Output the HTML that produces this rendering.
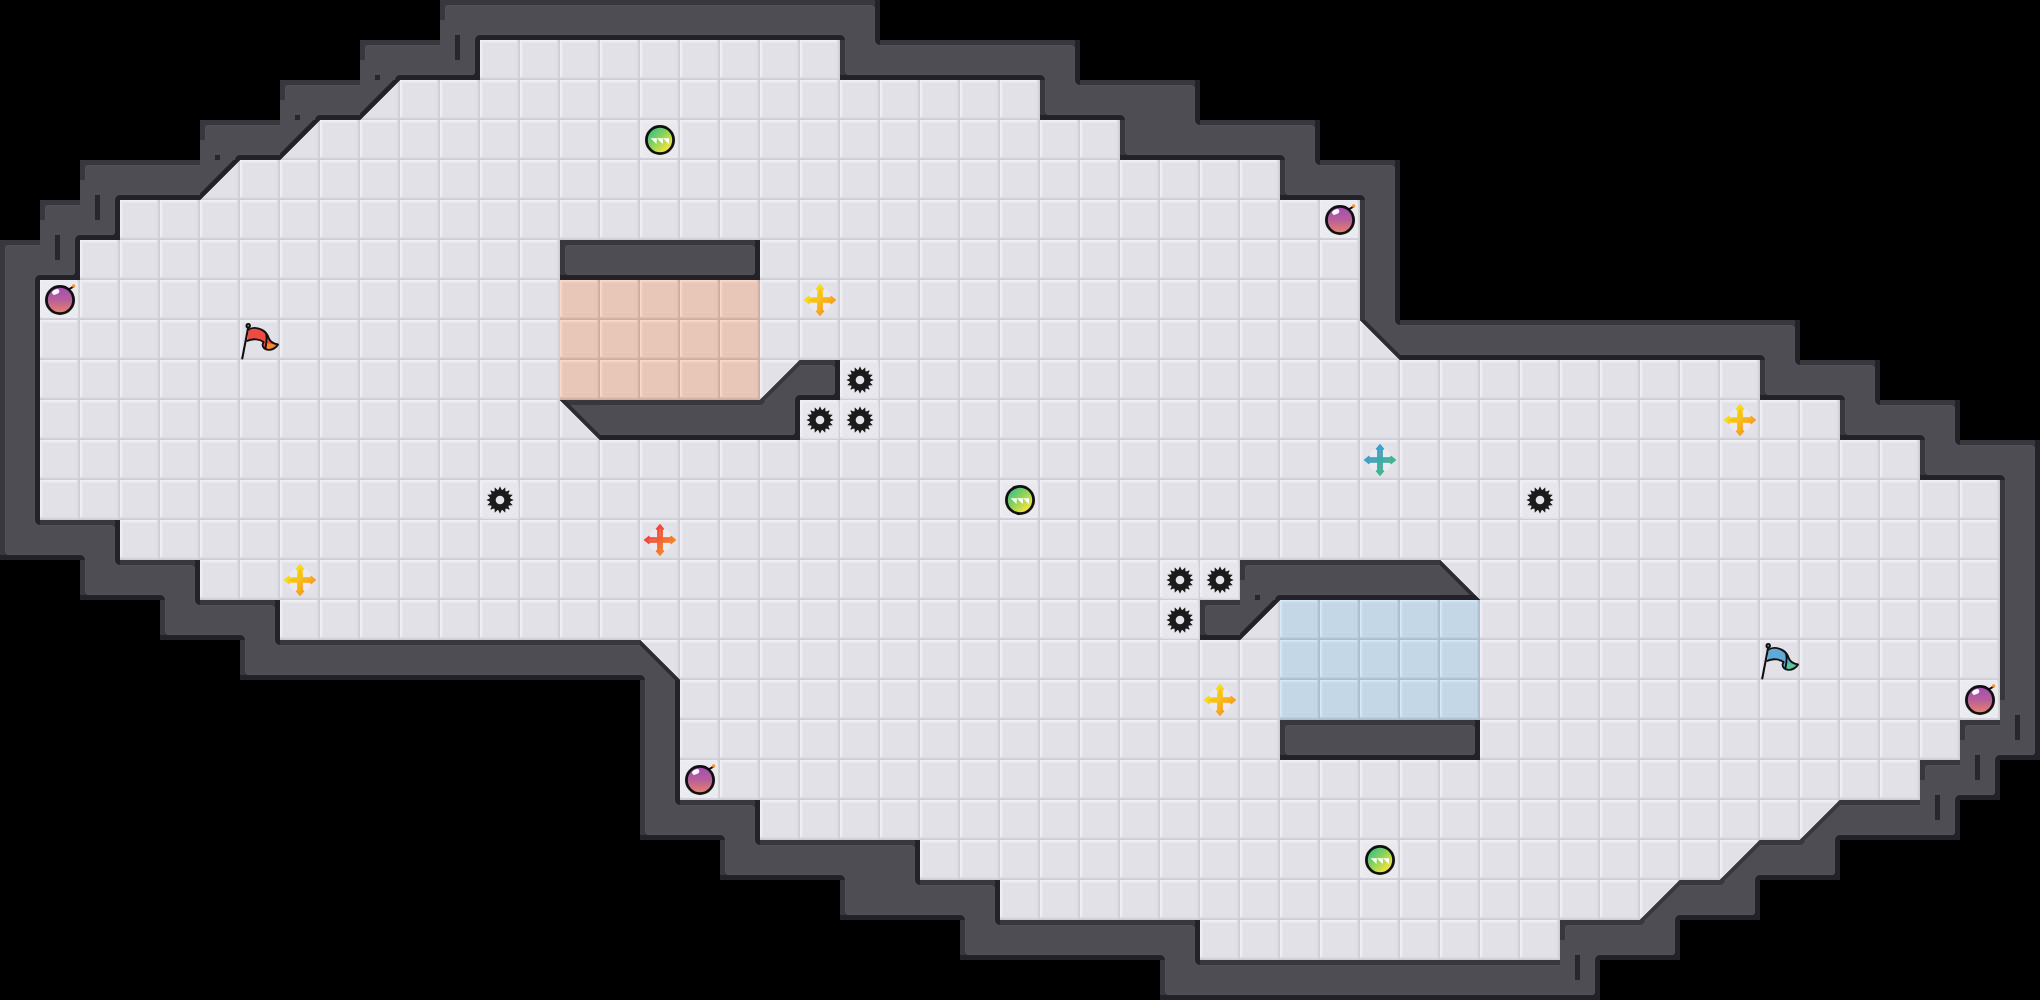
<!DOCTYPE html>
<html lang="en"><head><meta charset="utf-8"><title>Map preview</title>
<style>html,body{margin:0;padding:0;background:#000;overflow:hidden}svg{display:block}</style></head>
<body><svg width="2040" height="1000" viewBox="0 0 2040 1000" shape-rendering="auto"><defs>
<symbol id="f" width="40" height="40" viewBox="0 0 40 40"><rect width="40" height="40" fill="#e2e1e7"/><path d="M0 0h40v3h-37v37h-3z" fill="#e6e5eb"/><path d="M0 0h40v2h-38v38h-2z" fill="#ecebf2"/><path d="M0 0h40v1h-39v39h-1z" fill="#f0eff6"/><path d="M40 0v40h-40v-3h37v-37z" fill="#dddce2"/><path d="M40 0v40h-40v-2h38v-38z" fill="#d4d3da"/><path d="M40 0v40h-40v-1h39v-39z" fill="#cfced5"/><path d="M7.5 7.5h25v25h-25z" fill="none" stroke="#e4e3e9" stroke-width="1"/><path d="M5.5 5.5h29v29h-29z" fill="none" stroke="#e0dfe5" stroke-width="1"/></symbol>
<symbol id="fr" width="40" height="40" viewBox="0 0 40 40"><rect width="40" height="40" fill="#e8c7b8"/><path d="M0 0h40v3h-37v37h-3z" fill="#eccbbd"/><path d="M0 0h40v2h-38v38h-2z" fill="#f3d2c4"/><path d="M0 0h40v1h-39v39h-1z" fill="#f8d8cb"/><path d="M40 0v40h-40v-3h37v-37z" fill="#dfbfb0"/><path d="M40 0v40h-40v-2h38v-38z" fill="#d4b5a6"/><path d="M40 0v40h-40v-1h39v-39z" fill="#ccae9f"/><path d="M7.5 7.5h25v25h-25z" fill="none" stroke="#eac9ba" stroke-width="1"/><path d="M5.5 5.5h29v29h-29z" fill="none" stroke="#e5c4b5" stroke-width="1"/></symbol>
<symbol id="fb" width="40" height="40" viewBox="0 0 40 40"><rect width="40" height="40" fill="#c4d7e6"/><path d="M0 0h40v3h-37v37h-3z" fill="#c9dbea"/><path d="M0 0h40v2h-38v38h-2z" fill="#cfe1f0"/><path d="M0 0h40v1h-39v39h-1z" fill="#d6e7f5"/><path d="M40 0v40h-40v-3h37v-37z" fill="#bbcede"/><path d="M40 0v40h-40v-2h38v-38z" fill="#b1c5d6"/><path d="M40 0v40h-40v-1h39v-39z" fill="#a9bdce"/><path d="M7.5 7.5h25v25h-25z" fill="none" stroke="#c7d9e8" stroke-width="1"/><path d="M5.5 5.5h29v29h-29z" fill="none" stroke="#c1d4e3" stroke-width="1"/></symbol>
<radialGradient id="halo"><stop offset="0" stop-color="#fff" stop-opacity=".75"/><stop offset=".7" stop-color="#fff" stop-opacity=".55"/><stop offset="1" stop-color="#fff" stop-opacity="0"/></radialGradient>
<symbol id="spike" width="40" height="40" viewBox="0 0 40 40"><rect x="1" y="1" width="38" height="38" fill="#f3f2f7" opacity=".38"/><path d="M20.00 6.20L21.59 9.72L22.47 9.90L25.28 7.25L25.40 11.11L26.15 11.61L29.76 10.24L28.39 13.85L28.89 14.60L32.75 14.72L30.10 17.53L30.28 18.41L33.80 20.00L30.28 21.59L30.10 22.47L32.75 25.28L28.89 25.40L28.39 26.15L29.76 29.76L26.15 28.39L25.40 28.89L25.28 32.75L22.47 30.10L21.59 30.28L20.00 33.80L18.41 30.28L17.53 30.10L14.72 32.75L14.60 28.89L13.85 28.39L10.24 29.76L11.61 26.15L11.11 25.40L7.25 25.28L9.90 22.47L9.72 21.59L6.20 20.00L9.72 18.41L9.90 17.53L7.25 14.72L11.11 14.60L11.61 13.85L10.24 10.24L13.85 11.61L14.60 11.11L14.72 7.25L17.53 9.90L18.41 9.72z" fill="#1b1b1b"/><circle cx="20" cy="20" r="4.3" fill="#e4e3e9"/></symbol>
<linearGradient id="gbomb" x1="0" y1="0" x2="0" y2="1"><stop offset="0" stop-color="#a04db4"/><stop offset=".5" stop-color="#b8609a"/><stop offset="1" stop-color="#ea8368"/></linearGradient>
<symbol id="bomb" width="40" height="40" viewBox="0 0 40 40"><rect x="2" y="2" width="36" height="36" fill="#efeef4" opacity=".7"/><path d="M28.5 9.5L33 6.8" stroke="#111" stroke-width="2" stroke-linecap="round"/><circle cx="20" cy="20" r="13.6" fill="url(#gbomb)" stroke="#111" stroke-width="2.8"/><ellipse cx="15.6" cy="11.8" rx="3.8" ry="2.4" transform="rotate(-28 16 11.6)" fill="#fff"/><circle cx="33.6" cy="6" r="1.7" fill="#f7941d"/></symbol>
<linearGradient id="gboost" x1="0.1" y1="0.1" x2="0.9" y2="0.9"><stop offset="0" stop-color="#2fbf86"/><stop offset=".45" stop-color="#8fd25a"/><stop offset=".9" stop-color="#f7e43a"/></linearGradient>
<symbol id="boost" width="40" height="40" viewBox="0 0 40 40"><rect x="2" y="2" width="36" height="36" fill="#efeef4" opacity=".6"/><circle cx="20" cy="20" r="13.6" fill="url(#gboost)" stroke="#111" stroke-width="2.8"/><path d="M10.6 18.2h6.2l-.3 5.8zM16.8 18.2h6.2l-.3 5.8zM23 18.2h6.2l-.3 5.8z" fill="#fff"/></symbol>
<symbol id="pup" width="40" height="40" viewBox="0 0 40 40" overflow="visible"><circle cx="20" cy="20" r="12.3" fill="#f3f2f8" opacity=".55"/><path d="M17.70 17.70L17.70 9.10L16.20 9.10L20.00 4.50L23.80 9.10L22.30 9.10L22.30 17.70L30.90 17.70L30.90 16.20L35.50 20.00L30.90 23.80L30.90 22.30L22.30 22.30L22.30 30.90L23.80 30.90L20.00 35.50L16.20 30.90L17.70 30.90L17.70 22.30L9.10 22.30L9.10 23.80L4.50 20.00L9.10 16.20L9.10 17.70z" fill="url(#gpup)" stroke="url(#gpup)" stroke-width="1.1" stroke-linejoin="round"/><g stroke="#f9b21a" stroke-width="1.5" stroke-linecap="round" opacity=".75"><path d="M20 9.5V16M20 24V30.5M9.5 20H16M24 20H30.5"/></g></symbol><linearGradient id="gpup" gradientUnits="userSpaceOnUse" x1="13" y1="13" x2="31" y2="31"><stop offset="0" stop-color="#f7dc1c"/><stop offset="1" stop-color="#f78f1e"/></linearGradient>
<symbol id="pupr" width="40" height="40" viewBox="0 0 40 40" overflow="visible"><circle cx="20" cy="20" r="12.3" fill="#f3f2f8" opacity=".55"/><path d="M17.70 17.70L17.70 9.10L16.20 9.10L20.00 4.50L23.80 9.10L22.30 9.10L22.30 17.70L30.90 17.70L30.90 16.20L35.50 20.00L30.90 23.80L30.90 22.30L22.30 22.30L22.30 30.90L23.80 30.90L20.00 35.50L16.20 30.90L17.70 30.90L17.70 22.30L9.10 22.30L9.10 23.80L4.50 20.00L9.10 16.20L9.10 17.70z" fill="url(#gpupr)" stroke="url(#gpupr)" stroke-width="1.1" stroke-linejoin="round"/><g stroke="#ef7a55" stroke-width="1.5" stroke-linecap="round" opacity=".75"><path d="M20 9.5V16M20 24V30.5M9.5 20H16M24 20H30.5"/></g></symbol><linearGradient id="gpupr" gradientUnits="userSpaceOnUse" x1="13" y1="13" x2="31" y2="31"><stop offset="0" stop-color="#f1453f"/><stop offset="1" stop-color="#f6921e"/></linearGradient>
<symbol id="pupb" width="40" height="40" viewBox="0 0 40 40" overflow="visible"><circle cx="20" cy="20" r="12.3" fill="#f3f2f8" opacity=".55"/><path d="M17.70 17.70L17.70 9.10L16.20 9.10L20.00 4.50L23.80 9.10L22.30 9.10L22.30 17.70L30.90 17.70L30.90 16.20L35.50 20.00L30.90 23.80L30.90 22.30L22.30 22.30L22.30 30.90L23.80 30.90L20.00 35.50L16.20 30.90L17.70 30.90L17.70 22.30L9.10 22.30L9.10 23.80L4.50 20.00L9.10 16.20L9.10 17.70z" fill="url(#gpupb)" stroke="url(#gpupb)" stroke-width="1.1" stroke-linejoin="round"/><g stroke="#7d9ba6" stroke-width="1.5" stroke-linecap="round" opacity=".75"><path d="M20 9.5V16M20 24V30.5M9.5 20H16M24 20H30.5"/></g></symbol><linearGradient id="gpupb" gradientUnits="userSpaceOnUse" x1="13" y1="13" x2="31" y2="31"><stop offset="0" stop-color="#3a9fd0"/><stop offset="1" stop-color="#3bbf74"/></linearGradient>
<symbol id="flagr" width="40" height="40" viewBox="0 0 40 40" overflow="visible">
<g transform="translate(0 .9)"><path d="M8.6 8.6C12 6.6 17 6.6 21.5 8.8C26 11 27.5 13.5 28.6 17C30 20.5 33.5 23 38 23.6C36.5 26.5 32.5 29.3 28.4 29C25 28.6 22.4 26.5 22.6 23.8C22.8 22.3 23.6 21.6 23.6 21.2C20 18.4 13 17.2 7.2 20z" fill="#ef4b43"/>
<path d="M26.6 22.2L36.6 24.2C34.5 26.8 31.5 28.4 28.4 28.2C26.4 27.6 25.6 25 26.6 22.2z" fill="#f58a2a"/>
<path d="M8.6 8.6C12 6.6 17 6.6 21.5 8.8C26 11 27.5 13.5 28.6 17C30 20.5 33.5 23 38 23.6C36.5 26.5 32.5 29.3 28.4 29C25 28.6 22.4 26.5 22.6 23.8C22.8 22.3 23.6 21.6 23.6 21.2C20 18.4 13 17.2 7.2 20M26 12.5C27 16 26.6 22 25.4 27.4" fill="none" stroke="#111" stroke-width="1.9" stroke-linejoin="round" stroke-linecap="round"/></g>
<path d="M8.2 7.4L2.3 38.4" stroke="#111" stroke-width="2.1" stroke-linecap="round"/>
<circle cx="8.2" cy="5.8" r="1.7" fill="#bbb" stroke="#111" stroke-width="2"/>
</symbol>
<symbol id="flagb" width="40" height="40" viewBox="0 0 40 40" overflow="visible">
<g transform="translate(0 .9)"><path d="M8.6 8.6C12 6.6 17 6.6 21.5 8.8C26 11 27.5 13.5 28.6 17C30 20.5 33.5 23 38 23.6C36.5 26.5 32.5 29.3 28.4 29C25 28.6 22.4 26.5 22.6 23.8C22.8 22.3 23.6 21.6 23.6 21.2C20 18.4 13 17.2 7.2 20z" fill="#62a9d8"/>
<path d="M26.6 22.2L36.6 24.2C34.5 26.8 31.5 28.4 28.4 28.2C26.4 27.6 25.6 25 26.6 22.2z" fill="#58c98a"/>
<path d="M8.6 8.6C12 6.6 17 6.6 21.5 8.8C26 11 27.5 13.5 28.6 17C30 20.5 33.5 23 38 23.6C36.5 26.5 32.5 29.3 28.4 29C25 28.6 22.4 26.5 22.6 23.8C22.8 22.3 23.6 21.6 23.6 21.2C20 18.4 13 17.2 7.2 20M26 12.5C27 16 26.6 22 25.4 27.4" fill="none" stroke="#111" stroke-width="1.9" stroke-linejoin="round" stroke-linecap="round"/></g>
<path d="M8.2 7.4L2.3 38.4" stroke="#111" stroke-width="2.1" stroke-linecap="round"/>
<circle cx="8.2" cy="5.8" r="1.7" fill="#bbb" stroke="#111" stroke-width="2"/>
</symbol>
</defs><rect width="2040" height="1000" fill="#000"/>
<use href="#f" x="480" y="40"/>
<use href="#f" x="520" y="40"/>
<use href="#f" x="560" y="40"/>
<use href="#f" x="600" y="40"/>
<use href="#f" x="640" y="40"/>
<use href="#f" x="680" y="40"/>
<use href="#f" x="720" y="40"/>
<use href="#f" x="760" y="40"/>
<use href="#f" x="800" y="40"/>
<use href="#f" x="360" y="80"/>
<use href="#f" x="400" y="80"/>
<use href="#f" x="440" y="80"/>
<use href="#f" x="480" y="80"/>
<use href="#f" x="520" y="80"/>
<use href="#f" x="560" y="80"/>
<use href="#f" x="600" y="80"/>
<use href="#f" x="640" y="80"/>
<use href="#f" x="680" y="80"/>
<use href="#f" x="720" y="80"/>
<use href="#f" x="760" y="80"/>
<use href="#f" x="800" y="80"/>
<use href="#f" x="840" y="80"/>
<use href="#f" x="880" y="80"/>
<use href="#f" x="920" y="80"/>
<use href="#f" x="960" y="80"/>
<use href="#f" x="1000" y="80"/>
<use href="#f" x="280" y="120"/>
<use href="#f" x="320" y="120"/>
<use href="#f" x="360" y="120"/>
<use href="#f" x="400" y="120"/>
<use href="#f" x="440" y="120"/>
<use href="#f" x="480" y="120"/>
<use href="#f" x="520" y="120"/>
<use href="#f" x="560" y="120"/>
<use href="#f" x="600" y="120"/>
<use href="#f" x="640" y="120"/>
<use href="#f" x="680" y="120"/>
<use href="#f" x="720" y="120"/>
<use href="#f" x="760" y="120"/>
<use href="#f" x="800" y="120"/>
<use href="#f" x="840" y="120"/>
<use href="#f" x="880" y="120"/>
<use href="#f" x="920" y="120"/>
<use href="#f" x="960" y="120"/>
<use href="#f" x="1000" y="120"/>
<use href="#f" x="1040" y="120"/>
<use href="#f" x="1080" y="120"/>
<use href="#f" x="200" y="160"/>
<use href="#f" x="240" y="160"/>
<use href="#f" x="280" y="160"/>
<use href="#f" x="320" y="160"/>
<use href="#f" x="360" y="160"/>
<use href="#f" x="400" y="160"/>
<use href="#f" x="440" y="160"/>
<use href="#f" x="480" y="160"/>
<use href="#f" x="520" y="160"/>
<use href="#f" x="560" y="160"/>
<use href="#f" x="600" y="160"/>
<use href="#f" x="640" y="160"/>
<use href="#f" x="680" y="160"/>
<use href="#f" x="720" y="160"/>
<use href="#f" x="760" y="160"/>
<use href="#f" x="800" y="160"/>
<use href="#f" x="840" y="160"/>
<use href="#f" x="880" y="160"/>
<use href="#f" x="920" y="160"/>
<use href="#f" x="960" y="160"/>
<use href="#f" x="1000" y="160"/>
<use href="#f" x="1040" y="160"/>
<use href="#f" x="1080" y="160"/>
<use href="#f" x="1120" y="160"/>
<use href="#f" x="1160" y="160"/>
<use href="#f" x="1200" y="160"/>
<use href="#f" x="1240" y="160"/>
<use href="#f" x="120" y="200"/>
<use href="#f" x="160" y="200"/>
<use href="#f" x="200" y="200"/>
<use href="#f" x="240" y="200"/>
<use href="#f" x="280" y="200"/>
<use href="#f" x="320" y="200"/>
<use href="#f" x="360" y="200"/>
<use href="#f" x="400" y="200"/>
<use href="#f" x="440" y="200"/>
<use href="#f" x="480" y="200"/>
<use href="#f" x="520" y="200"/>
<use href="#f" x="560" y="200"/>
<use href="#f" x="600" y="200"/>
<use href="#f" x="640" y="200"/>
<use href="#f" x="680" y="200"/>
<use href="#f" x="720" y="200"/>
<use href="#f" x="760" y="200"/>
<use href="#f" x="800" y="200"/>
<use href="#f" x="840" y="200"/>
<use href="#f" x="880" y="200"/>
<use href="#f" x="920" y="200"/>
<use href="#f" x="960" y="200"/>
<use href="#f" x="1000" y="200"/>
<use href="#f" x="1040" y="200"/>
<use href="#f" x="1080" y="200"/>
<use href="#f" x="1120" y="200"/>
<use href="#f" x="1160" y="200"/>
<use href="#f" x="1200" y="200"/>
<use href="#f" x="1240" y="200"/>
<use href="#f" x="1280" y="200"/>
<use href="#f" x="1320" y="200"/>
<use href="#f" x="80" y="240"/>
<use href="#f" x="120" y="240"/>
<use href="#f" x="160" y="240"/>
<use href="#f" x="200" y="240"/>
<use href="#f" x="240" y="240"/>
<use href="#f" x="280" y="240"/>
<use href="#f" x="320" y="240"/>
<use href="#f" x="360" y="240"/>
<use href="#f" x="400" y="240"/>
<use href="#f" x="440" y="240"/>
<use href="#f" x="480" y="240"/>
<use href="#f" x="520" y="240"/>
<use href="#f" x="760" y="240"/>
<use href="#f" x="800" y="240"/>
<use href="#f" x="840" y="240"/>
<use href="#f" x="880" y="240"/>
<use href="#f" x="920" y="240"/>
<use href="#f" x="960" y="240"/>
<use href="#f" x="1000" y="240"/>
<use href="#f" x="1040" y="240"/>
<use href="#f" x="1080" y="240"/>
<use href="#f" x="1120" y="240"/>
<use href="#f" x="1160" y="240"/>
<use href="#f" x="1200" y="240"/>
<use href="#f" x="1240" y="240"/>
<use href="#f" x="1280" y="240"/>
<use href="#f" x="1320" y="240"/>
<use href="#f" x="40" y="280"/>
<use href="#f" x="80" y="280"/>
<use href="#f" x="120" y="280"/>
<use href="#f" x="160" y="280"/>
<use href="#f" x="200" y="280"/>
<use href="#f" x="240" y="280"/>
<use href="#f" x="280" y="280"/>
<use href="#f" x="320" y="280"/>
<use href="#f" x="360" y="280"/>
<use href="#f" x="400" y="280"/>
<use href="#f" x="440" y="280"/>
<use href="#f" x="480" y="280"/>
<use href="#f" x="520" y="280"/>
<use href="#fr" x="560" y="280"/>
<use href="#fr" x="600" y="280"/>
<use href="#fr" x="640" y="280"/>
<use href="#fr" x="680" y="280"/>
<use href="#fr" x="720" y="280"/>
<use href="#f" x="760" y="280"/>
<use href="#f" x="800" y="280"/>
<use href="#f" x="840" y="280"/>
<use href="#f" x="880" y="280"/>
<use href="#f" x="920" y="280"/>
<use href="#f" x="960" y="280"/>
<use href="#f" x="1000" y="280"/>
<use href="#f" x="1040" y="280"/>
<use href="#f" x="1080" y="280"/>
<use href="#f" x="1120" y="280"/>
<use href="#f" x="1160" y="280"/>
<use href="#f" x="1200" y="280"/>
<use href="#f" x="1240" y="280"/>
<use href="#f" x="1280" y="280"/>
<use href="#f" x="1320" y="280"/>
<use href="#f" x="40" y="320"/>
<use href="#f" x="80" y="320"/>
<use href="#f" x="120" y="320"/>
<use href="#f" x="160" y="320"/>
<use href="#f" x="200" y="320"/>
<use href="#f" x="240" y="320"/>
<use href="#f" x="280" y="320"/>
<use href="#f" x="320" y="320"/>
<use href="#f" x="360" y="320"/>
<use href="#f" x="400" y="320"/>
<use href="#f" x="440" y="320"/>
<use href="#f" x="480" y="320"/>
<use href="#f" x="520" y="320"/>
<use href="#fr" x="560" y="320"/>
<use href="#fr" x="600" y="320"/>
<use href="#fr" x="640" y="320"/>
<use href="#fr" x="680" y="320"/>
<use href="#fr" x="720" y="320"/>
<use href="#f" x="760" y="320"/>
<use href="#f" x="800" y="320"/>
<use href="#f" x="840" y="320"/>
<use href="#f" x="880" y="320"/>
<use href="#f" x="920" y="320"/>
<use href="#f" x="960" y="320"/>
<use href="#f" x="1000" y="320"/>
<use href="#f" x="1040" y="320"/>
<use href="#f" x="1080" y="320"/>
<use href="#f" x="1120" y="320"/>
<use href="#f" x="1160" y="320"/>
<use href="#f" x="1200" y="320"/>
<use href="#f" x="1240" y="320"/>
<use href="#f" x="1280" y="320"/>
<use href="#f" x="1320" y="320"/>
<use href="#f" x="1360" y="320"/>
<use href="#f" x="40" y="360"/>
<use href="#f" x="80" y="360"/>
<use href="#f" x="120" y="360"/>
<use href="#f" x="160" y="360"/>
<use href="#f" x="200" y="360"/>
<use href="#f" x="240" y="360"/>
<use href="#f" x="280" y="360"/>
<use href="#f" x="320" y="360"/>
<use href="#f" x="360" y="360"/>
<use href="#f" x="400" y="360"/>
<use href="#f" x="440" y="360"/>
<use href="#f" x="480" y="360"/>
<use href="#f" x="520" y="360"/>
<use href="#fr" x="560" y="360"/>
<use href="#fr" x="600" y="360"/>
<use href="#fr" x="640" y="360"/>
<use href="#fr" x="680" y="360"/>
<use href="#fr" x="720" y="360"/>
<use href="#f" x="760" y="360"/>
<use href="#f" x="840" y="360"/>
<use href="#f" x="880" y="360"/>
<use href="#f" x="920" y="360"/>
<use href="#f" x="960" y="360"/>
<use href="#f" x="1000" y="360"/>
<use href="#f" x="1040" y="360"/>
<use href="#f" x="1080" y="360"/>
<use href="#f" x="1120" y="360"/>
<use href="#f" x="1160" y="360"/>
<use href="#f" x="1200" y="360"/>
<use href="#f" x="1240" y="360"/>
<use href="#f" x="1280" y="360"/>
<use href="#f" x="1320" y="360"/>
<use href="#f" x="1360" y="360"/>
<use href="#f" x="1400" y="360"/>
<use href="#f" x="1440" y="360"/>
<use href="#f" x="1480" y="360"/>
<use href="#f" x="1520" y="360"/>
<use href="#f" x="1560" y="360"/>
<use href="#f" x="1600" y="360"/>
<use href="#f" x="1640" y="360"/>
<use href="#f" x="1680" y="360"/>
<use href="#f" x="1720" y="360"/>
<use href="#f" x="40" y="400"/>
<use href="#f" x="80" y="400"/>
<use href="#f" x="120" y="400"/>
<use href="#f" x="160" y="400"/>
<use href="#f" x="200" y="400"/>
<use href="#f" x="240" y="400"/>
<use href="#f" x="280" y="400"/>
<use href="#f" x="320" y="400"/>
<use href="#f" x="360" y="400"/>
<use href="#f" x="400" y="400"/>
<use href="#f" x="440" y="400"/>
<use href="#f" x="480" y="400"/>
<use href="#f" x="520" y="400"/>
<use href="#f" x="560" y="400"/>
<use href="#f" x="800" y="400"/>
<use href="#f" x="840" y="400"/>
<use href="#f" x="880" y="400"/>
<use href="#f" x="920" y="400"/>
<use href="#f" x="960" y="400"/>
<use href="#f" x="1000" y="400"/>
<use href="#f" x="1040" y="400"/>
<use href="#f" x="1080" y="400"/>
<use href="#f" x="1120" y="400"/>
<use href="#f" x="1160" y="400"/>
<use href="#f" x="1200" y="400"/>
<use href="#f" x="1240" y="400"/>
<use href="#f" x="1280" y="400"/>
<use href="#f" x="1320" y="400"/>
<use href="#f" x="1360" y="400"/>
<use href="#f" x="1400" y="400"/>
<use href="#f" x="1440" y="400"/>
<use href="#f" x="1480" y="400"/>
<use href="#f" x="1520" y="400"/>
<use href="#f" x="1560" y="400"/>
<use href="#f" x="1600" y="400"/>
<use href="#f" x="1640" y="400"/>
<use href="#f" x="1680" y="400"/>
<use href="#f" x="1720" y="400"/>
<use href="#f" x="1760" y="400"/>
<use href="#f" x="1800" y="400"/>
<use href="#f" x="40" y="440"/>
<use href="#f" x="80" y="440"/>
<use href="#f" x="120" y="440"/>
<use href="#f" x="160" y="440"/>
<use href="#f" x="200" y="440"/>
<use href="#f" x="240" y="440"/>
<use href="#f" x="280" y="440"/>
<use href="#f" x="320" y="440"/>
<use href="#f" x="360" y="440"/>
<use href="#f" x="400" y="440"/>
<use href="#f" x="440" y="440"/>
<use href="#f" x="480" y="440"/>
<use href="#f" x="520" y="440"/>
<use href="#f" x="560" y="440"/>
<use href="#f" x="600" y="440"/>
<use href="#f" x="640" y="440"/>
<use href="#f" x="680" y="440"/>
<use href="#f" x="720" y="440"/>
<use href="#f" x="760" y="440"/>
<use href="#f" x="800" y="440"/>
<use href="#f" x="840" y="440"/>
<use href="#f" x="880" y="440"/>
<use href="#f" x="920" y="440"/>
<use href="#f" x="960" y="440"/>
<use href="#f" x="1000" y="440"/>
<use href="#f" x="1040" y="440"/>
<use href="#f" x="1080" y="440"/>
<use href="#f" x="1120" y="440"/>
<use href="#f" x="1160" y="440"/>
<use href="#f" x="1200" y="440"/>
<use href="#f" x="1240" y="440"/>
<use href="#f" x="1280" y="440"/>
<use href="#f" x="1320" y="440"/>
<use href="#f" x="1360" y="440"/>
<use href="#f" x="1400" y="440"/>
<use href="#f" x="1440" y="440"/>
<use href="#f" x="1480" y="440"/>
<use href="#f" x="1520" y="440"/>
<use href="#f" x="1560" y="440"/>
<use href="#f" x="1600" y="440"/>
<use href="#f" x="1640" y="440"/>
<use href="#f" x="1680" y="440"/>
<use href="#f" x="1720" y="440"/>
<use href="#f" x="1760" y="440"/>
<use href="#f" x="1800" y="440"/>
<use href="#f" x="1840" y="440"/>
<use href="#f" x="1880" y="440"/>
<use href="#f" x="40" y="480"/>
<use href="#f" x="80" y="480"/>
<use href="#f" x="120" y="480"/>
<use href="#f" x="160" y="480"/>
<use href="#f" x="200" y="480"/>
<use href="#f" x="240" y="480"/>
<use href="#f" x="280" y="480"/>
<use href="#f" x="320" y="480"/>
<use href="#f" x="360" y="480"/>
<use href="#f" x="400" y="480"/>
<use href="#f" x="440" y="480"/>
<use href="#f" x="480" y="480"/>
<use href="#f" x="520" y="480"/>
<use href="#f" x="560" y="480"/>
<use href="#f" x="600" y="480"/>
<use href="#f" x="640" y="480"/>
<use href="#f" x="680" y="480"/>
<use href="#f" x="720" y="480"/>
<use href="#f" x="760" y="480"/>
<use href="#f" x="800" y="480"/>
<use href="#f" x="840" y="480"/>
<use href="#f" x="880" y="480"/>
<use href="#f" x="920" y="480"/>
<use href="#f" x="960" y="480"/>
<use href="#f" x="1000" y="480"/>
<use href="#f" x="1040" y="480"/>
<use href="#f" x="1080" y="480"/>
<use href="#f" x="1120" y="480"/>
<use href="#f" x="1160" y="480"/>
<use href="#f" x="1200" y="480"/>
<use href="#f" x="1240" y="480"/>
<use href="#f" x="1280" y="480"/>
<use href="#f" x="1320" y="480"/>
<use href="#f" x="1360" y="480"/>
<use href="#f" x="1400" y="480"/>
<use href="#f" x="1440" y="480"/>
<use href="#f" x="1480" y="480"/>
<use href="#f" x="1520" y="480"/>
<use href="#f" x="1560" y="480"/>
<use href="#f" x="1600" y="480"/>
<use href="#f" x="1640" y="480"/>
<use href="#f" x="1680" y="480"/>
<use href="#f" x="1720" y="480"/>
<use href="#f" x="1760" y="480"/>
<use href="#f" x="1800" y="480"/>
<use href="#f" x="1840" y="480"/>
<use href="#f" x="1880" y="480"/>
<use href="#f" x="1920" y="480"/>
<use href="#f" x="1960" y="480"/>
<use href="#f" x="120" y="520"/>
<use href="#f" x="160" y="520"/>
<use href="#f" x="200" y="520"/>
<use href="#f" x="240" y="520"/>
<use href="#f" x="280" y="520"/>
<use href="#f" x="320" y="520"/>
<use href="#f" x="360" y="520"/>
<use href="#f" x="400" y="520"/>
<use href="#f" x="440" y="520"/>
<use href="#f" x="480" y="520"/>
<use href="#f" x="520" y="520"/>
<use href="#f" x="560" y="520"/>
<use href="#f" x="600" y="520"/>
<use href="#f" x="640" y="520"/>
<use href="#f" x="680" y="520"/>
<use href="#f" x="720" y="520"/>
<use href="#f" x="760" y="520"/>
<use href="#f" x="800" y="520"/>
<use href="#f" x="840" y="520"/>
<use href="#f" x="880" y="520"/>
<use href="#f" x="920" y="520"/>
<use href="#f" x="960" y="520"/>
<use href="#f" x="1000" y="520"/>
<use href="#f" x="1040" y="520"/>
<use href="#f" x="1080" y="520"/>
<use href="#f" x="1120" y="520"/>
<use href="#f" x="1160" y="520"/>
<use href="#f" x="1200" y="520"/>
<use href="#f" x="1240" y="520"/>
<use href="#f" x="1280" y="520"/>
<use href="#f" x="1320" y="520"/>
<use href="#f" x="1360" y="520"/>
<use href="#f" x="1400" y="520"/>
<use href="#f" x="1440" y="520"/>
<use href="#f" x="1480" y="520"/>
<use href="#f" x="1520" y="520"/>
<use href="#f" x="1560" y="520"/>
<use href="#f" x="1600" y="520"/>
<use href="#f" x="1640" y="520"/>
<use href="#f" x="1680" y="520"/>
<use href="#f" x="1720" y="520"/>
<use href="#f" x="1760" y="520"/>
<use href="#f" x="1800" y="520"/>
<use href="#f" x="1840" y="520"/>
<use href="#f" x="1880" y="520"/>
<use href="#f" x="1920" y="520"/>
<use href="#f" x="1960" y="520"/>
<use href="#f" x="200" y="560"/>
<use href="#f" x="240" y="560"/>
<use href="#f" x="280" y="560"/>
<use href="#f" x="320" y="560"/>
<use href="#f" x="360" y="560"/>
<use href="#f" x="400" y="560"/>
<use href="#f" x="440" y="560"/>
<use href="#f" x="480" y="560"/>
<use href="#f" x="520" y="560"/>
<use href="#f" x="560" y="560"/>
<use href="#f" x="600" y="560"/>
<use href="#f" x="640" y="560"/>
<use href="#f" x="680" y="560"/>
<use href="#f" x="720" y="560"/>
<use href="#f" x="760" y="560"/>
<use href="#f" x="800" y="560"/>
<use href="#f" x="840" y="560"/>
<use href="#f" x="880" y="560"/>
<use href="#f" x="920" y="560"/>
<use href="#f" x="960" y="560"/>
<use href="#f" x="1000" y="560"/>
<use href="#f" x="1040" y="560"/>
<use href="#f" x="1080" y="560"/>
<use href="#f" x="1120" y="560"/>
<use href="#f" x="1160" y="560"/>
<use href="#f" x="1200" y="560"/>
<use href="#f" x="1440" y="560"/>
<use href="#f" x="1480" y="560"/>
<use href="#f" x="1520" y="560"/>
<use href="#f" x="1560" y="560"/>
<use href="#f" x="1600" y="560"/>
<use href="#f" x="1640" y="560"/>
<use href="#f" x="1680" y="560"/>
<use href="#f" x="1720" y="560"/>
<use href="#f" x="1760" y="560"/>
<use href="#f" x="1800" y="560"/>
<use href="#f" x="1840" y="560"/>
<use href="#f" x="1880" y="560"/>
<use href="#f" x="1920" y="560"/>
<use href="#f" x="1960" y="560"/>
<use href="#f" x="280" y="600"/>
<use href="#f" x="320" y="600"/>
<use href="#f" x="360" y="600"/>
<use href="#f" x="400" y="600"/>
<use href="#f" x="440" y="600"/>
<use href="#f" x="480" y="600"/>
<use href="#f" x="520" y="600"/>
<use href="#f" x="560" y="600"/>
<use href="#f" x="600" y="600"/>
<use href="#f" x="640" y="600"/>
<use href="#f" x="680" y="600"/>
<use href="#f" x="720" y="600"/>
<use href="#f" x="760" y="600"/>
<use href="#f" x="800" y="600"/>
<use href="#f" x="840" y="600"/>
<use href="#f" x="880" y="600"/>
<use href="#f" x="920" y="600"/>
<use href="#f" x="960" y="600"/>
<use href="#f" x="1000" y="600"/>
<use href="#f" x="1040" y="600"/>
<use href="#f" x="1080" y="600"/>
<use href="#f" x="1120" y="600"/>
<use href="#f" x="1160" y="600"/>
<use href="#f" x="1240" y="600"/>
<use href="#fb" x="1280" y="600"/>
<use href="#fb" x="1320" y="600"/>
<use href="#fb" x="1360" y="600"/>
<use href="#fb" x="1400" y="600"/>
<use href="#fb" x="1440" y="600"/>
<use href="#f" x="1480" y="600"/>
<use href="#f" x="1520" y="600"/>
<use href="#f" x="1560" y="600"/>
<use href="#f" x="1600" y="600"/>
<use href="#f" x="1640" y="600"/>
<use href="#f" x="1680" y="600"/>
<use href="#f" x="1720" y="600"/>
<use href="#f" x="1760" y="600"/>
<use href="#f" x="1800" y="600"/>
<use href="#f" x="1840" y="600"/>
<use href="#f" x="1880" y="600"/>
<use href="#f" x="1920" y="600"/>
<use href="#f" x="1960" y="600"/>
<use href="#f" x="640" y="640"/>
<use href="#f" x="680" y="640"/>
<use href="#f" x="720" y="640"/>
<use href="#f" x="760" y="640"/>
<use href="#f" x="800" y="640"/>
<use href="#f" x="840" y="640"/>
<use href="#f" x="880" y="640"/>
<use href="#f" x="920" y="640"/>
<use href="#f" x="960" y="640"/>
<use href="#f" x="1000" y="640"/>
<use href="#f" x="1040" y="640"/>
<use href="#f" x="1080" y="640"/>
<use href="#f" x="1120" y="640"/>
<use href="#f" x="1160" y="640"/>
<use href="#f" x="1200" y="640"/>
<use href="#f" x="1240" y="640"/>
<use href="#fb" x="1280" y="640"/>
<use href="#fb" x="1320" y="640"/>
<use href="#fb" x="1360" y="640"/>
<use href="#fb" x="1400" y="640"/>
<use href="#fb" x="1440" y="640"/>
<use href="#f" x="1480" y="640"/>
<use href="#f" x="1520" y="640"/>
<use href="#f" x="1560" y="640"/>
<use href="#f" x="1600" y="640"/>
<use href="#f" x="1640" y="640"/>
<use href="#f" x="1680" y="640"/>
<use href="#f" x="1720" y="640"/>
<use href="#f" x="1760" y="640"/>
<use href="#f" x="1800" y="640"/>
<use href="#f" x="1840" y="640"/>
<use href="#f" x="1880" y="640"/>
<use href="#f" x="1920" y="640"/>
<use href="#f" x="1960" y="640"/>
<use href="#f" x="680" y="680"/>
<use href="#f" x="720" y="680"/>
<use href="#f" x="760" y="680"/>
<use href="#f" x="800" y="680"/>
<use href="#f" x="840" y="680"/>
<use href="#f" x="880" y="680"/>
<use href="#f" x="920" y="680"/>
<use href="#f" x="960" y="680"/>
<use href="#f" x="1000" y="680"/>
<use href="#f" x="1040" y="680"/>
<use href="#f" x="1080" y="680"/>
<use href="#f" x="1120" y="680"/>
<use href="#f" x="1160" y="680"/>
<use href="#f" x="1200" y="680"/>
<use href="#f" x="1240" y="680"/>
<use href="#fb" x="1280" y="680"/>
<use href="#fb" x="1320" y="680"/>
<use href="#fb" x="1360" y="680"/>
<use href="#fb" x="1400" y="680"/>
<use href="#fb" x="1440" y="680"/>
<use href="#f" x="1480" y="680"/>
<use href="#f" x="1520" y="680"/>
<use href="#f" x="1560" y="680"/>
<use href="#f" x="1600" y="680"/>
<use href="#f" x="1640" y="680"/>
<use href="#f" x="1680" y="680"/>
<use href="#f" x="1720" y="680"/>
<use href="#f" x="1760" y="680"/>
<use href="#f" x="1800" y="680"/>
<use href="#f" x="1840" y="680"/>
<use href="#f" x="1880" y="680"/>
<use href="#f" x="1920" y="680"/>
<use href="#f" x="1960" y="680"/>
<use href="#f" x="680" y="720"/>
<use href="#f" x="720" y="720"/>
<use href="#f" x="760" y="720"/>
<use href="#f" x="800" y="720"/>
<use href="#f" x="840" y="720"/>
<use href="#f" x="880" y="720"/>
<use href="#f" x="920" y="720"/>
<use href="#f" x="960" y="720"/>
<use href="#f" x="1000" y="720"/>
<use href="#f" x="1040" y="720"/>
<use href="#f" x="1080" y="720"/>
<use href="#f" x="1120" y="720"/>
<use href="#f" x="1160" y="720"/>
<use href="#f" x="1200" y="720"/>
<use href="#f" x="1240" y="720"/>
<use href="#f" x="1480" y="720"/>
<use href="#f" x="1520" y="720"/>
<use href="#f" x="1560" y="720"/>
<use href="#f" x="1600" y="720"/>
<use href="#f" x="1640" y="720"/>
<use href="#f" x="1680" y="720"/>
<use href="#f" x="1720" y="720"/>
<use href="#f" x="1760" y="720"/>
<use href="#f" x="1800" y="720"/>
<use href="#f" x="1840" y="720"/>
<use href="#f" x="1880" y="720"/>
<use href="#f" x="1920" y="720"/>
<use href="#f" x="680" y="760"/>
<use href="#f" x="720" y="760"/>
<use href="#f" x="760" y="760"/>
<use href="#f" x="800" y="760"/>
<use href="#f" x="840" y="760"/>
<use href="#f" x="880" y="760"/>
<use href="#f" x="920" y="760"/>
<use href="#f" x="960" y="760"/>
<use href="#f" x="1000" y="760"/>
<use href="#f" x="1040" y="760"/>
<use href="#f" x="1080" y="760"/>
<use href="#f" x="1120" y="760"/>
<use href="#f" x="1160" y="760"/>
<use href="#f" x="1200" y="760"/>
<use href="#f" x="1240" y="760"/>
<use href="#f" x="1280" y="760"/>
<use href="#f" x="1320" y="760"/>
<use href="#f" x="1360" y="760"/>
<use href="#f" x="1400" y="760"/>
<use href="#f" x="1440" y="760"/>
<use href="#f" x="1480" y="760"/>
<use href="#f" x="1520" y="760"/>
<use href="#f" x="1560" y="760"/>
<use href="#f" x="1600" y="760"/>
<use href="#f" x="1640" y="760"/>
<use href="#f" x="1680" y="760"/>
<use href="#f" x="1720" y="760"/>
<use href="#f" x="1760" y="760"/>
<use href="#f" x="1800" y="760"/>
<use href="#f" x="1840" y="760"/>
<use href="#f" x="1880" y="760"/>
<use href="#f" x="760" y="800"/>
<use href="#f" x="800" y="800"/>
<use href="#f" x="840" y="800"/>
<use href="#f" x="880" y="800"/>
<use href="#f" x="920" y="800"/>
<use href="#f" x="960" y="800"/>
<use href="#f" x="1000" y="800"/>
<use href="#f" x="1040" y="800"/>
<use href="#f" x="1080" y="800"/>
<use href="#f" x="1120" y="800"/>
<use href="#f" x="1160" y="800"/>
<use href="#f" x="1200" y="800"/>
<use href="#f" x="1240" y="800"/>
<use href="#f" x="1280" y="800"/>
<use href="#f" x="1320" y="800"/>
<use href="#f" x="1360" y="800"/>
<use href="#f" x="1400" y="800"/>
<use href="#f" x="1440" y="800"/>
<use href="#f" x="1480" y="800"/>
<use href="#f" x="1520" y="800"/>
<use href="#f" x="1560" y="800"/>
<use href="#f" x="1600" y="800"/>
<use href="#f" x="1640" y="800"/>
<use href="#f" x="1680" y="800"/>
<use href="#f" x="1720" y="800"/>
<use href="#f" x="1760" y="800"/>
<use href="#f" x="1800" y="800"/>
<use href="#f" x="920" y="840"/>
<use href="#f" x="960" y="840"/>
<use href="#f" x="1000" y="840"/>
<use href="#f" x="1040" y="840"/>
<use href="#f" x="1080" y="840"/>
<use href="#f" x="1120" y="840"/>
<use href="#f" x="1160" y="840"/>
<use href="#f" x="1200" y="840"/>
<use href="#f" x="1240" y="840"/>
<use href="#f" x="1280" y="840"/>
<use href="#f" x="1320" y="840"/>
<use href="#f" x="1360" y="840"/>
<use href="#f" x="1400" y="840"/>
<use href="#f" x="1440" y="840"/>
<use href="#f" x="1480" y="840"/>
<use href="#f" x="1520" y="840"/>
<use href="#f" x="1560" y="840"/>
<use href="#f" x="1600" y="840"/>
<use href="#f" x="1640" y="840"/>
<use href="#f" x="1680" y="840"/>
<use href="#f" x="1720" y="840"/>
<use href="#f" x="1000" y="880"/>
<use href="#f" x="1040" y="880"/>
<use href="#f" x="1080" y="880"/>
<use href="#f" x="1120" y="880"/>
<use href="#f" x="1160" y="880"/>
<use href="#f" x="1200" y="880"/>
<use href="#f" x="1240" y="880"/>
<use href="#f" x="1280" y="880"/>
<use href="#f" x="1320" y="880"/>
<use href="#f" x="1360" y="880"/>
<use href="#f" x="1400" y="880"/>
<use href="#f" x="1440" y="880"/>
<use href="#f" x="1480" y="880"/>
<use href="#f" x="1520" y="880"/>
<use href="#f" x="1560" y="880"/>
<use href="#f" x="1600" y="880"/>
<use href="#f" x="1640" y="880"/>
<use href="#f" x="1200" y="920"/>
<use href="#f" x="1240" y="920"/>
<use href="#f" x="1280" y="920"/>
<use href="#f" x="1320" y="920"/>
<use href="#f" x="1360" y="920"/>
<use href="#f" x="1400" y="920"/>
<use href="#f" x="1440" y="920"/>
<use href="#f" x="1480" y="920"/>
<use href="#f" x="1520" y="920"/>
<path fill="#4e4d53" d="M440 0h440v40h-440zM360 40h120v40h-120zM840 40h240v40h-240zM280 80h80v40h-80zM1040 80h160v40h-160zM200 120h80v40h-80zM1120 120h200v40h-200zM80 160h120v40h-120zM1280 160h120v40h-120zM40 200h80v40h-80zM1360 200h40v40h-40zM0 240h80v40h-80zM560 240h200v40h-200zM1360 240h40v40h-40zM0 280h40v40h-40zM1360 280h40v40h-40zM0 320h40v40h-40zM1400 320h400v40h-400zM0 360h40v40h-40zM800 360h40v40h-40zM1760 360h120v40h-120zM0 400h40v40h-40zM600 400h200v40h-200zM1840 400h120v40h-120zM0 440h40v40h-40zM1920 440h120v40h-120zM0 480h40v40h-40zM2000 480h40v40h-40zM0 520h120v40h-120zM2000 520h40v40h-40zM80 560h120v40h-120zM1240 560h200v40h-200zM2000 560h40v40h-40zM160 600h120v40h-120zM1200 600h40v40h-40zM2000 600h40v40h-40zM240 640h400v40h-400zM2000 640h40v40h-40zM640 680h40v40h-40zM2000 680h40v40h-40zM640 720h40v40h-40zM1280 720h200v40h-200zM1960 720h80v40h-80zM640 760h40v40h-40zM1920 760h80v40h-80zM640 800h120v40h-120zM1840 800h120v40h-120zM720 840h200v40h-200zM1760 840h80v40h-80zM840 880h160v40h-160zM1680 880h80v40h-80zM960 920h240v40h-240zM1560 920h120v40h-120zM1160 960h440v40h-440zM360 80h40L360 120zM280 120h40L280 160zM200 160h40L200 200zM1360 320h40v40zM800 360v40h-40zM560 400h40v40zM1440 560L1480 600h-40zM1240 600h40L1240 640zM640 640L680 680h-40zM1840 800v40h-40zM1760 840v40h-40zM1680 880v40h-40z"/>
<path fill="#525157" d="M440 5h40v1h-40zM445 0h1v40h-1zM480 40h-6a6 6 0 0 1 6 -6zM480 5h40v1h-40zM480 34h40v1h-40zM520 5h40v1h-40zM520 34h40v1h-40zM560 5h40v1h-40zM560 34h40v1h-40zM600 5h40v1h-40zM600 34h40v1h-40zM640 5h40v1h-40zM640 34h40v1h-40zM680 5h40v1h-40zM680 34h40v1h-40zM720 5h40v1h-40zM720 34h40v1h-40zM760 5h40v1h-40zM760 34h40v1h-40zM800 5h40v1h-40zM800 34h40v1h-40zM840 5h40v1h-40zM874 0h1v40h-1zM840 40v-6a6 6 0 0 1 6 6zM360 45h40v1h-40zM365 40h1v40h-1zM400 80h-6a6 6 0 0 1 6 -6zM400 45h40v1h-40zM400 74h40v1h-40zM440 74h40v1h-40zM474 40h1v40h-1zM845 40h1v40h-1zM840 74h40v1h-40zM880 40v6a6 6 0 0 1 -6 -6zM880 45h40v1h-40zM880 74h40v1h-40zM920 45h40v1h-40zM920 74h40v1h-40zM960 45h40v1h-40zM960 74h40v1h-40zM1000 45h40v1h-40zM1000 74h40v1h-40zM1040 45h40v1h-40zM1074 40h1v40h-1zM1040 80v-6a6 6 0 0 1 6 6zM280 85h40v1h-40zM285 80h1v40h-1zM320 120h-6a6 6 0 0 1 6 -6zM320 85h40v1h-40zM320 114h40v1h-40zM400 80L360 120L360 112.2L392.2 80zM1045 80h1v40h-1zM1040 114h40v1h-40zM1080 80v6a6 6 0 0 1 -6 -6zM1080 85h40v1h-40zM1080 114h40v1h-40zM1120 85h40v1h-40zM1120 120v-6a6 6 0 0 1 6 6zM1160 85h40v1h-40zM1194 80h1v40h-1zM200 125h40v1h-40zM205 120h1v40h-1zM240 160h-6a6 6 0 0 1 6 -6zM240 125h40v1h-40zM240 154h40v1h-40zM320 120L280 160L280 152.2L312.2 120zM1125 120h1v40h-1zM1120 154h40v1h-40zM1160 154h40v1h-40zM1200 120v6a6 6 0 0 1 -6 -6zM1200 125h40v1h-40zM1200 154h40v1h-40zM1240 125h40v1h-40zM1240 154h40v1h-40zM1280 125h40v1h-40zM1314 120h1v40h-1zM1280 160v-6a6 6 0 0 1 6 6zM80 165h40v1h-40zM85 160h1v40h-1zM120 200h-6a6 6 0 0 1 6 -6zM120 165h40v1h-40zM120 194h40v1h-40zM160 165h40v1h-40zM160 194h40v1h-40zM240 160L200 200L200 192.2L232.2 160zM1285 160h1v40h-1zM1280 194h40v1h-40zM1320 160v6a6 6 0 0 1 -6 -6zM1320 165h40v1h-40zM1320 194h40v1h-40zM1360 165h40v1h-40zM1394 160h1v40h-1zM1360 200v-6a6 6 0 0 1 6 6zM40 205h40v1h-40zM45 200h1v40h-1zM80 240h-6a6 6 0 0 1 6 -6zM80 234h40v1h-40zM114 200h1v40h-1zM1365 200h1v40h-1zM1394 200h1v40h-1zM0 245h40v1h-40zM5 240h1v40h-1zM40 280h-6a6 6 0 0 1 6 -6zM40 274h40v1h-40zM74 240h1v40h-1zM560 245h40v1h-40zM565 240h1v40h-1zM560 274h40v1h-40zM600 245h40v1h-40zM600 274h40v1h-40zM640 245h40v1h-40zM640 274h40v1h-40zM680 245h40v1h-40zM680 274h40v1h-40zM720 245h40v1h-40zM720 274h40v1h-40zM754 240h1v40h-1zM1365 240h1v40h-1zM1394 240h1v40h-1zM5 280h1v40h-1zM34 280h1v40h-1zM1365 280h1v40h-1zM1394 280h1v40h-1zM5 320h1v40h-1zM34 320h1v40h-1zM1400 320v6a6 6 0 0 1 -6 -6zM1360 320L1400 360L1400 353.5L1366.5 320zM1400 325h40v1h-40zM1400 354h40v1h-40zM1440 325h40v1h-40zM1440 354h40v1h-40zM1480 325h40v1h-40zM1480 354h40v1h-40zM1520 325h40v1h-40zM1520 354h40v1h-40zM1560 325h40v1h-40zM1560 354h40v1h-40zM1600 325h40v1h-40zM1600 354h40v1h-40zM1640 325h40v1h-40zM1640 354h40v1h-40zM1680 325h40v1h-40zM1680 354h40v1h-40zM1720 325h40v1h-40zM1720 354h40v1h-40zM1760 325h40v1h-40zM1794 320h1v40h-1zM1760 360v-6a6 6 0 0 1 6 6zM5 360h1v40h-1zM34 360h1v40h-1zM800 400h-6a6 6 0 0 1 6 -6zM800 360L760 400L766.5 400L800 366.5zM800 365h40v1h-40zM800 394h40v1h-40zM834 360h1v40h-1zM1765 360h1v40h-1zM1760 394h40v1h-40zM1800 360v6a6 6 0 0 1 -6 -6zM1800 365h40v1h-40zM1800 394h40v1h-40zM1840 365h40v1h-40zM1874 360h1v40h-1zM1840 400v-6a6 6 0 0 1 6 6zM5 400h1v40h-1zM34 400h1v40h-1zM560 400L600 440L600 433.5L566.5 400zM600 405h40v1h-40zM600 434h40v1h-40zM640 405h40v1h-40zM640 434h40v1h-40zM680 405h40v1h-40zM680 434h40v1h-40zM720 405h40v1h-40zM720 434h40v1h-40zM760 434h40v1h-40zM794 400h1v40h-1zM760 400h6a6 6 0 0 1 -6 6zM1845 400h1v40h-1zM1840 434h40v1h-40zM1880 400v6a6 6 0 0 1 -6 -6zM1880 405h40v1h-40zM1880 434h40v1h-40zM1920 405h40v1h-40zM1954 400h1v40h-1zM1920 440v-6a6 6 0 0 1 6 6zM5 440h1v40h-1zM34 440h1v40h-1zM1925 440h1v40h-1zM1920 474h40v1h-40zM1960 440v6a6 6 0 0 1 -6 -6zM1960 445h40v1h-40zM1960 474h40v1h-40zM2000 445h40v1h-40zM2034 440h1v40h-1zM2000 480v-6a6 6 0 0 1 6 6zM5 480h1v40h-1zM34 480h1v40h-1zM2005 480h1v40h-1zM2034 480h1v40h-1zM5 520h1v40h-1zM0 554h40v1h-40zM40 520v6a6 6 0 0 1 -6 -6zM40 525h40v1h-40zM40 554h40v1h-40zM80 525h40v1h-40zM114 520h1v40h-1zM80 560v-6a6 6 0 0 1 6 6zM2005 520h1v40h-1zM2034 520h1v40h-1zM85 560h1v40h-1zM80 594h40v1h-40zM120 560v6a6 6 0 0 1 -6 -6zM120 565h40v1h-40zM120 594h40v1h-40zM160 565h40v1h-40zM194 560h1v40h-1zM160 600v-6a6 6 0 0 1 6 6zM1240 565h40v1h-40zM1245 560h1v40h-1zM1280 600h-6a6 6 0 0 1 6 -6zM1280 565h40v1h-40zM1280 594h40v1h-40zM1320 565h40v1h-40zM1320 594h40v1h-40zM1360 565h40v1h-40zM1360 594h40v1h-40zM1400 565h40v1h-40zM1400 594h40v1h-40zM1440 560L1480 600L1473.5 600L1440 566.5zM2005 560h1v40h-1zM2034 560h1v40h-1zM165 600h1v40h-1zM160 634h40v1h-40zM200 600v6a6 6 0 0 1 -6 -6zM200 605h40v1h-40zM200 634h40v1h-40zM240 605h40v1h-40zM274 600h1v40h-1zM240 640v-6a6 6 0 0 1 6 6zM1200 605h40v1h-40zM1205 600h1v40h-1zM1200 634h40v1h-40zM1280 600L1240 640L1240 632.2L1272.2 600zM2005 600h1v40h-1zM2034 600h1v40h-1zM245 640h1v40h-1zM240 674h40v1h-40zM280 640v6a6 6 0 0 1 -6 -6zM280 645h40v1h-40zM280 674h40v1h-40zM320 645h40v1h-40zM320 674h40v1h-40zM360 645h40v1h-40zM360 674h40v1h-40zM400 645h40v1h-40zM400 674h40v1h-40zM440 645h40v1h-40zM440 674h40v1h-40zM480 645h40v1h-40zM480 674h40v1h-40zM520 645h40v1h-40zM520 674h40v1h-40zM560 645h40v1h-40zM560 674h40v1h-40zM600 645h40v1h-40zM600 674h40v1h-40zM640 680v-6a6 6 0 0 1 6 6zM640 640L680 680L673.5 680L640 646.5zM2005 640h1v40h-1zM2034 640h1v40h-1zM645 680h1v40h-1zM674 680h1v40h-1zM2005 680h1v40h-1zM2034 680h1v40h-1zM645 720h1v40h-1zM674 720h1v40h-1zM1280 725h40v1h-40zM1285 720h1v40h-1zM1280 754h40v1h-40zM1320 725h40v1h-40zM1320 754h40v1h-40zM1360 725h40v1h-40zM1360 754h40v1h-40zM1400 725h40v1h-40zM1400 754h40v1h-40zM1440 725h40v1h-40zM1440 754h40v1h-40zM1474 720h1v40h-1zM1960 725h40v1h-40zM1965 720h1v40h-1zM2000 760h-6a6 6 0 0 1 6 -6zM2000 754h40v1h-40zM2034 720h1v40h-1zM645 760h1v40h-1zM674 760h1v40h-1zM1920 765h40v1h-40zM1925 760h1v40h-1zM1960 800h-6a6 6 0 0 1 6 -6zM1960 794h40v1h-40zM1994 760h1v40h-1zM645 800h1v40h-1zM640 834h40v1h-40zM680 800v6a6 6 0 0 1 -6 -6zM680 805h40v1h-40zM680 834h40v1h-40zM720 805h40v1h-40zM754 800h1v40h-1zM720 840v-6a6 6 0 0 1 6 6zM1840 840h-6a6 6 0 0 1 6 -6zM1840 800L1800 840L1806.5 840L1840 806.5zM1840 805h40v1h-40zM1840 834h40v1h-40zM1880 805h40v1h-40zM1880 834h40v1h-40zM1920 834h40v1h-40zM1954 800h1v40h-1zM725 840h1v40h-1zM720 874h40v1h-40zM760 840v6a6 6 0 0 1 -6 -6zM760 845h40v1h-40zM760 874h40v1h-40zM800 845h40v1h-40zM800 874h40v1h-40zM840 845h40v1h-40zM840 880v-6a6 6 0 0 1 6 6zM880 845h40v1h-40zM914 840h1v40h-1zM1760 880h-6a6 6 0 0 1 6 -6zM1760 840L1720 880L1726.5 880L1760 846.5zM1760 845h40v1h-40zM1760 874h40v1h-40zM1800 874h40v1h-40zM1834 840h1v40h-1zM1800 840h6a6 6 0 0 1 -6 6zM845 880h1v40h-1zM840 914h40v1h-40zM880 914h40v1h-40zM920 880v6a6 6 0 0 1 -6 -6zM920 885h40v1h-40zM920 914h40v1h-40zM960 885h40v1h-40zM994 880h1v40h-1zM960 920v-6a6 6 0 0 1 6 6zM1680 920h-6a6 6 0 0 1 6 -6zM1680 880L1640 920L1646.5 920L1680 886.5zM1680 885h40v1h-40zM1680 914h40v1h-40zM1720 914h40v1h-40zM1754 880h1v40h-1zM1720 880h6a6 6 0 0 1 -6 6zM965 920h1v40h-1zM960 954h40v1h-40zM1000 920v6a6 6 0 0 1 -6 -6zM1000 925h40v1h-40zM1000 954h40v1h-40zM1040 925h40v1h-40zM1040 954h40v1h-40zM1080 925h40v1h-40zM1080 954h40v1h-40zM1120 925h40v1h-40zM1120 954h40v1h-40zM1160 925h40v1h-40zM1194 920h1v40h-1zM1160 960v-6a6 6 0 0 1 6 6zM1560 925h40v1h-40zM1565 920h1v40h-1zM1600 960h-6a6 6 0 0 1 6 -6zM1600 925h40v1h-40zM1600 954h40v1h-40zM1640 954h40v1h-40zM1674 920h1v40h-1zM1640 920h6a6 6 0 0 1 -6 6zM1165 960h1v40h-1zM1160 994h40v1h-40zM1200 960v6a6 6 0 0 1 -6 -6zM1200 965h40v1h-40zM1200 994h40v1h-40zM1240 965h40v1h-40zM1240 994h40v1h-40zM1280 965h40v1h-40zM1280 994h40v1h-40zM1320 965h40v1h-40zM1320 994h40v1h-40zM1360 965h40v1h-40zM1360 994h40v1h-40zM1400 965h40v1h-40zM1400 994h40v1h-40zM1440 965h40v1h-40zM1440 994h40v1h-40zM1480 965h40v1h-40zM1480 994h40v1h-40zM1520 965h40v1h-40zM1520 994h40v1h-40zM1560 994h40v1h-40zM1594 960h1v40h-1z"/>
<path fill="#38373d" d="M440 0h40v5h-40zM440 0h5v40h-5zM445 5h3a3 3 0 0 0 -3 3zM480 0h40v5h-40zM520 0h40v5h-40zM560 0h40v5h-40zM600 0h40v5h-40zM640 0h40v5h-40zM680 0h40v5h-40zM720 0h40v5h-40zM760 0h40v5h-40zM800 0h40v5h-40zM840 0h40v5h-40zM360 40h40v5h-40zM360 40h5v40h-5zM365 45h3a3 3 0 0 0 -3 3zM400 40h40v5h-40zM840 40h5v40h-5zM880 40h40v5h-40zM920 40h40v5h-40zM960 40h40v5h-40zM1000 40h40v5h-40zM1040 40h40v5h-40zM280 80h40v5h-40zM280 80h5v40h-5zM285 85h3a3 3 0 0 0 -3 3zM320 80h40v5h-40zM1040 80h5v40h-5zM1080 80h40v5h-40zM1120 80h40v5h-40zM1160 80h40v5h-40zM200 120h40v5h-40zM200 120h5v40h-5zM205 125h3a3 3 0 0 0 -3 3zM240 120h40v5h-40zM1120 120h5v40h-5zM1200 120h40v5h-40zM1240 120h40v5h-40zM1280 120h40v5h-40zM80 160h40v5h-40zM80 160h5v40h-5zM85 165h3a3 3 0 0 0 -3 3zM120 160h40v5h-40zM160 160h40v5h-40zM1280 160h5v40h-5zM1320 160h40v5h-40zM1360 160h40v5h-40zM40 200h40v5h-40zM40 200h5v40h-5zM45 205h3a3 3 0 0 0 -3 3zM1360 200h5v40h-5zM0 240h40v5h-40zM0 240h5v40h-5zM5 245h3a3 3 0 0 0 -3 3zM560 240h40v5h-40zM560 240h5v40h-5zM565 245h3a3 3 0 0 0 -3 3zM600 240h40v5h-40zM640 240h40v5h-40zM680 240h40v5h-40zM720 240h40v5h-40zM1360 240h5v40h-5zM0 280h5v40h-5zM1360 280h5v40h-5zM0 320h5v40h-5zM1400 320h40v5h-40zM1440 320h40v5h-40zM1480 320h40v5h-40zM1520 320h40v5h-40zM1560 320h40v5h-40zM1600 320h40v5h-40zM1640 320h40v5h-40zM1680 320h40v5h-40zM1720 320h40v5h-40zM1760 320h40v5h-40zM0 360h5v40h-5zM800 360L760 400L765.2 400L800 365.2zM800 360h40v5h-40zM1760 360h5v40h-5zM1800 360h40v5h-40zM1840 360h40v5h-40zM0 400h5v40h-5zM560 400h40v5h-35zM600 400h40v5h-40zM640 400h40v5h-40zM680 400h40v5h-40zM720 400h40v5h-40zM760 400h5a5 5 0 0 1 -5 5zM1840 400h5v40h-5zM1880 400h40v5h-40zM1920 400h40v5h-40zM0 440h5v40h-5zM1920 440h5v40h-5zM1960 440h40v5h-40zM2000 440h40v5h-40zM0 480h5v40h-5zM2000 480h5v40h-5zM0 520h5v40h-5zM40 520h40v5h-40zM80 520h40v5h-40zM2000 520h5v40h-5zM80 560h5v40h-5zM120 560h40v5h-40zM160 560h40v5h-40zM1240 560h40v5h-40zM1240 560h5v40h-5zM1245 565h3a3 3 0 0 0 -3 3zM1280 560h40v5h-40zM1320 560h40v5h-40zM1360 560h40v5h-40zM1400 560h40v5h-40zM2000 560h5v40h-5zM160 600h5v40h-5zM200 600h40v5h-40zM240 600h40v5h-40zM1200 600h40v5h-40zM1200 600h5v40h-5zM1205 605h3a3 3 0 0 0 -3 3zM2000 600h5v40h-5zM240 640h5v40h-5zM280 640h40v5h-40zM320 640h40v5h-40zM360 640h40v5h-40zM400 640h40v5h-40zM440 640h40v5h-40zM480 640h40v5h-40zM520 640h40v5h-40zM560 640h40v5h-40zM600 640h40v5h-40zM2000 640h5v40h-5zM640 680h5v40h-5zM2000 680h5v40h-5zM640 720h5v40h-5zM1280 720h40v5h-40zM1280 720h5v40h-5zM1285 725h3a3 3 0 0 0 -3 3zM1320 720h40v5h-40zM1360 720h40v5h-40zM1400 720h40v5h-40zM1440 720h40v5h-40zM1960 720h40v5h-40zM1960 720h5v40h-5zM1965 725h3a3 3 0 0 0 -3 3zM640 760h5v40h-5zM1920 760h40v5h-40zM1920 760h5v40h-5zM1925 765h3a3 3 0 0 0 -3 3zM640 800h5v40h-5zM680 800h40v5h-40zM720 800h40v5h-40zM1840 800L1800 840L1805.2 840L1840 805.2zM1840 800h40v5h-40zM1880 800h40v5h-40zM720 840h5v40h-5zM760 840h40v5h-40zM800 840h40v5h-40zM840 840h40v5h-40zM880 840h40v5h-40zM1760 840L1720 880L1725.2 880L1760 845.2zM1760 840h40v5h-40zM1800 840h5a5 5 0 0 1 -5 5zM840 880h5v40h-5zM920 880h40v5h-40zM960 880h40v5h-40zM1680 880L1640 920L1645.2 920L1680 885.2zM1680 880h40v5h-40zM1720 880h5a5 5 0 0 1 -5 5zM960 920h5v40h-5zM1000 920h40v5h-40zM1040 920h40v5h-40zM1080 920h40v5h-40zM1120 920h40v5h-40zM1160 920h40v5h-40zM1560 920h40v5h-40zM1560 920h5v40h-5zM1565 925h3a3 3 0 0 0 -3 3zM1600 920h40v5h-40zM1640 920h5a5 5 0 0 1 -5 5zM1160 960h5v40h-5zM1200 960h40v5h-40zM1240 960h40v5h-40zM1280 960h40v5h-40zM1320 960h40v5h-40zM1360 960h40v5h-40zM1400 960h40v5h-40zM1440 960h40v5h-40zM1480 960h40v5h-40zM1520 960h40v5h-40z"/>
<path fill="#2c2b31" d="M1360 320L1400 360L1400 354.8L1365.2 320zM560 400L600 440L600 434.8L565.2 400zM1440 560L1480 600L1474.8 600L1440 565.2zM640 640L680 680L674.8 680L640 645.2z"/>
<path fill="#232228" d="M480 40h-5a5 5 0 0 1 5 -5zM480 35h40v5h-40zM520 35h40v5h-40zM560 35h40v5h-40zM600 35h40v5h-40zM640 35h40v5h-40zM680 35h40v5h-40zM720 35h40v5h-40zM760 35h40v5h-40zM800 35h40v5h-40zM875 0h5v40h-5zM840 40v-5a5 5 0 0 1 5 5zM875 5v3a3 3 0 0 0 -3 -3zM400 80h-5a5 5 0 0 1 5 -5zM400 75h40v5h-40zM440 75h40v5h-40zM475 40h5v40h-5zM475 75h-3a3 3 0 0 0 3 -3zM840 75h40v5h-40zM880 40v5a5 5 0 0 1 -5 -5zM845 75v-3a3 3 0 0 0 3 3zM880 75h40v5h-40zM920 75h40v5h-40zM960 75h40v5h-40zM1000 75h40v5h-40zM1075 40h5v40h-5zM1040 80v-5a5 5 0 0 1 5 5zM1075 45v3a3 3 0 0 0 -3 -3zM320 120h-5a5 5 0 0 1 5 -5zM320 115h40v5h-40zM400 80L360 120L360 113.4L393.4 80zM1040 115h40v5h-40zM1080 80v5a5 5 0 0 1 -5 -5zM1045 115v-3a3 3 0 0 0 3 3zM1080 115h40v5h-40zM1120 120v-5a5 5 0 0 1 5 5zM1195 80h5v40h-5zM1195 85v3a3 3 0 0 0 -3 -3zM240 160h-5a5 5 0 0 1 5 -5zM240 155h40v5h-40zM320 120L280 160L280 153.4L313.4 120zM1120 155h40v5h-40zM1125 155v-3a3 3 0 0 0 3 3zM1160 155h40v5h-40zM1200 120v5a5 5 0 0 1 -5 -5zM1200 155h40v5h-40zM1240 155h40v5h-40zM1315 120h5v40h-5zM1280 160v-5a5 5 0 0 1 5 5zM1315 125v3a3 3 0 0 0 -3 -3zM120 200h-5a5 5 0 0 1 5 -5zM120 195h40v5h-40zM160 195h40v5h-40zM240 160L200 200L200 193.4L233.4 160zM1280 195h40v5h-40zM1320 160v5a5 5 0 0 1 -5 -5zM1285 195v-3a3 3 0 0 0 3 3zM1320 195h40v5h-40zM1395 160h5v40h-5zM1360 200v-5a5 5 0 0 1 5 5zM1395 165v3a3 3 0 0 0 -3 -3zM80 240h-5a5 5 0 0 1 5 -5zM80 235h40v5h-40zM115 200h5v40h-5zM115 235h-3a3 3 0 0 0 3 -3zM1395 200h5v40h-5zM40 280h-5a5 5 0 0 1 5 -5zM40 275h40v5h-40zM75 240h5v40h-5zM75 275h-3a3 3 0 0 0 3 -3zM560 275h40v5h-40zM565 275v-3a3 3 0 0 0 3 3zM600 275h40v5h-40zM640 275h40v5h-40zM680 275h40v5h-40zM720 275h40v5h-40zM755 240h5v40h-5zM755 245v3a3 3 0 0 0 -3 -3zM755 275h-3a3 3 0 0 0 3 -3zM1395 240h5v40h-5zM35 280h5v40h-5zM1395 280h5v40h-5zM35 320h5v40h-5zM1400 320v5a5 5 0 0 1 -5 -5zM1400 355h40v5h-40zM1440 355h40v5h-40zM1480 355h40v5h-40zM1520 355h40v5h-40zM1560 355h40v5h-40zM1600 355h40v5h-40zM1640 355h40v5h-40zM1680 355h40v5h-40zM1720 355h40v5h-40zM1795 320h5v40h-5zM1760 360v-5a5 5 0 0 1 5 5zM1795 325v3a3 3 0 0 0 -3 -3zM35 360h5v40h-5zM800 400h-5a5 5 0 0 1 5 -5zM800 395h40v5h-40zM835 360h5v40h-5zM835 365v3a3 3 0 0 0 -3 -3zM835 395h-3a3 3 0 0 0 3 -3zM1760 395h40v5h-40zM1800 360v5a5 5 0 0 1 -5 -5zM1765 395v-3a3 3 0 0 0 3 3zM1800 395h40v5h-40zM1875 360h5v40h-5zM1840 400v-5a5 5 0 0 1 5 5zM1875 365v3a3 3 0 0 0 -3 -3zM35 400h5v40h-5zM600 435h40v5h-40zM640 435h40v5h-40zM680 435h40v5h-40zM720 435h40v5h-40zM760 435h40v5h-40zM795 400h5v40h-5zM795 435h-3a3 3 0 0 0 3 -3zM1840 435h40v5h-40zM1880 400v5a5 5 0 0 1 -5 -5zM1845 435v-3a3 3 0 0 0 3 3zM1880 435h40v5h-40zM1955 400h5v40h-5zM1920 440v-5a5 5 0 0 1 5 5zM1955 405v3a3 3 0 0 0 -3 -3zM35 440h5v40h-5zM1920 475h40v5h-40zM1960 440v5a5 5 0 0 1 -5 -5zM1925 475v-3a3 3 0 0 0 3 3zM1960 475h40v5h-40zM2035 440h5v40h-5zM2000 480v-5a5 5 0 0 1 5 5zM2035 445v3a3 3 0 0 0 -3 -3zM35 480h5v40h-5zM2035 480h5v40h-5zM0 555h40v5h-40zM40 520v5a5 5 0 0 1 -5 -5zM5 555v-3a3 3 0 0 0 3 3zM40 555h40v5h-40zM115 520h5v40h-5zM80 560v-5a5 5 0 0 1 5 5zM115 525v3a3 3 0 0 0 -3 -3zM2035 520h5v40h-5zM80 595h40v5h-40zM120 560v5a5 5 0 0 1 -5 -5zM85 595v-3a3 3 0 0 0 3 3zM120 595h40v5h-40zM195 560h5v40h-5zM160 600v-5a5 5 0 0 1 5 5zM195 565v3a3 3 0 0 0 -3 -3zM1280 600h-5a5 5 0 0 1 5 -5zM1280 595h40v5h-40zM1320 595h40v5h-40zM1360 595h40v5h-40zM1400 595h40v5h-40zM1440 600h40l-5 -5h-35zM2035 560h5v40h-5zM160 635h40v5h-40zM200 600v5a5 5 0 0 1 -5 -5zM165 635v-3a3 3 0 0 0 3 3zM200 635h40v5h-40zM275 600h5v40h-5zM240 640v-5a5 5 0 0 1 5 5zM275 605v3a3 3 0 0 0 -3 -3zM1200 635h40v5h-40zM1205 635v-3a3 3 0 0 0 3 3zM1280 600L1240 640L1240 633.4L1273.4 600zM2035 600h5v40h-5zM240 675h40v5h-40zM280 640v5a5 5 0 0 1 -5 -5zM245 675v-3a3 3 0 0 0 3 3zM280 675h40v5h-40zM320 675h40v5h-40zM360 675h40v5h-40zM400 675h40v5h-40zM440 675h40v5h-40zM480 675h40v5h-40zM520 675h40v5h-40zM560 675h40v5h-40zM600 675h40v5h-40zM640 680v-5a5 5 0 0 1 5 5zM2035 640h5v40h-5zM675 680h5v40h-5zM2035 680h5v40h-5zM675 720h5v40h-5zM1280 755h40v5h-40zM1285 755v-3a3 3 0 0 0 3 3zM1320 755h40v5h-40zM1360 755h40v5h-40zM1400 755h40v5h-40zM1440 755h40v5h-40zM1475 720h5v40h-5zM1475 725v3a3 3 0 0 0 -3 -3zM1475 755h-3a3 3 0 0 0 3 -3zM2000 760h-5a5 5 0 0 1 5 -5zM2000 755h40v5h-40zM2035 720h5v40h-5zM2035 755h-3a3 3 0 0 0 3 -3zM675 760h5v40h-5zM1960 800h-5a5 5 0 0 1 5 -5zM1960 795h40v5h-40zM1995 760h5v40h-5zM1995 795h-3a3 3 0 0 0 3 -3zM640 835h40v5h-40zM680 800v5a5 5 0 0 1 -5 -5zM645 835v-3a3 3 0 0 0 3 3zM680 835h40v5h-40zM755 800h5v40h-5zM720 840v-5a5 5 0 0 1 5 5zM755 805v3a3 3 0 0 0 -3 -3zM1840 840h-5a5 5 0 0 1 5 -5zM1840 835h40v5h-40zM1880 835h40v5h-40zM1920 835h40v5h-40zM1955 800h5v40h-5zM1955 835h-3a3 3 0 0 0 3 -3zM720 875h40v5h-40zM760 840v5a5 5 0 0 1 -5 -5zM725 875v-3a3 3 0 0 0 3 3zM760 875h40v5h-40zM800 875h40v5h-40zM840 880v-5a5 5 0 0 1 5 5zM915 840h5v40h-5zM915 845v3a3 3 0 0 0 -3 -3zM1760 880h-5a5 5 0 0 1 5 -5zM1760 875h40v5h-40zM1800 875h40v5h-40zM1835 840h5v40h-5zM1835 875h-3a3 3 0 0 0 3 -3zM840 915h40v5h-40zM845 915v-3a3 3 0 0 0 3 3zM880 915h40v5h-40zM920 880v5a5 5 0 0 1 -5 -5zM920 915h40v5h-40zM995 880h5v40h-5zM960 920v-5a5 5 0 0 1 5 5zM995 885v3a3 3 0 0 0 -3 -3zM1680 920h-5a5 5 0 0 1 5 -5zM1680 915h40v5h-40zM1720 915h40v5h-40zM1755 880h5v40h-5zM1755 915h-3a3 3 0 0 0 3 -3zM960 955h40v5h-40zM1000 920v5a5 5 0 0 1 -5 -5zM965 955v-3a3 3 0 0 0 3 3zM1000 955h40v5h-40zM1040 955h40v5h-40zM1080 955h40v5h-40zM1120 955h40v5h-40zM1195 920h5v40h-5zM1160 960v-5a5 5 0 0 1 5 5zM1195 925v3a3 3 0 0 0 -3 -3zM1600 960h-5a5 5 0 0 1 5 -5zM1600 955h40v5h-40zM1640 955h40v5h-40zM1675 920h5v40h-5zM1675 955h-3a3 3 0 0 0 3 -3zM1160 995h40v5h-40zM1200 960v5a5 5 0 0 1 -5 -5zM1165 995v-3a3 3 0 0 0 3 3zM1200 995h40v5h-40zM1240 995h40v5h-40zM1280 995h40v5h-40zM1320 995h40v5h-40zM1360 995h40v5h-40zM1400 995h40v5h-40zM1440 995h40v5h-40zM1480 995h40v5h-40zM1520 995h40v5h-40zM1560 995h40v5h-40zM1595 960h5v40h-5zM1595 995h-3a3 3 0 0 0 3 -3z"/>
<path fill="#4e4d53" d="M440 20h6v20h-6zM360 60h6v20h-6zM280 100h6v20h-6zM200 140h6v20h-6zM80 180h6v20h-6zM40 220h6v20h-6zM1240 580h6v20h-6zM2000 700h6v20h-6zM1960 740h6v20h-6zM1920 780h6v20h-6zM1560 940h6v20h-6z"/>
<path fill="#28272d" d="M455 35h5v5h-5zM455 40h5v20h-5zM375 75h5v5h-5zM295 115h5v5h-5zM215 155h5v5h-5zM95 195h5v5h-5zM95 200h5v20h-5zM55 235h5v5h-5zM55 240h5v20h-5zM1255 595h5v5h-5zM2015 715h5v5h-5zM2015 720h5v20h-5zM1975 755h5v5h-5zM1975 760h5v20h-5zM1935 795h5v5h-5zM1935 800h5v20h-5zM1575 955h5v5h-5zM1575 960h5v20h-5z"/>
<use href="#spike" x="840" y="360"/>
<use href="#spike" x="800" y="400"/>
<use href="#spike" x="840" y="400"/>
<use href="#spike" x="480" y="480"/>
<use href="#spike" x="1520" y="480"/>
<use href="#spike" x="1160" y="560"/>
<use href="#spike" x="1200" y="560"/>
<use href="#spike" x="1160" y="600"/>
<use href="#bomb" x="40" y="280"/>
<use href="#bomb" x="1320" y="200"/>
<use href="#bomb" x="680" y="760"/>
<use href="#bomb" x="1960" y="680"/>
<use href="#boost" x="640" y="120"/>
<use href="#boost" x="1000" y="480"/>
<use href="#boost" x="1360" y="840"/>
<use href="#pup" x="800" y="280"/>
<use href="#pup" x="1720" y="400"/>
<use href="#pup" x="280" y="560"/>
<use href="#pup" x="1200" y="680"/>
<use href="#pupr" x="640" y="520"/>
<use href="#pupb" x="1360" y="440"/>
<use href="#flagr" x="240" y="320"/>
<use href="#flagb" x="1760" y="640"/>
</svg></body></html>
